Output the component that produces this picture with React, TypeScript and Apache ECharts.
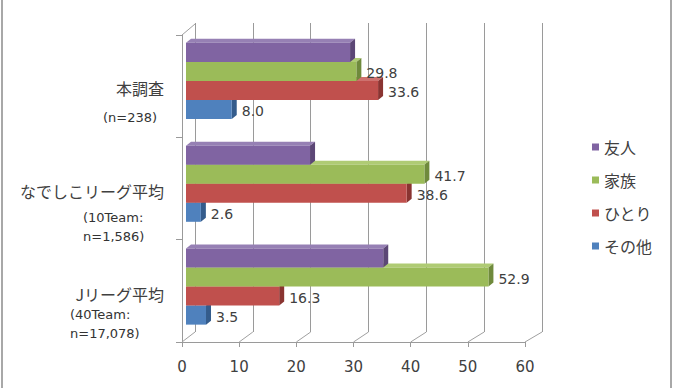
import React, { useEffect, useRef } from "react";
import * as echarts from "echarts";

const categories = ["本調査", "なでしこリーグ平均", "Jリーグ平均"];
const categoryNotes = [["(n=238)"], ["(10Team:", "n=1,586)"], ["(40Team:", "n=17,078)"]];
const seriesNames = ["友人", "家族", "ひとり", "その他"];
const friend = [28.7, 21.7, 34.5];
const family = [29.8, 41.7, 52.9];
const alone = [33.6, 38.6, 16.3];
const other = [8.0, 2.6, 3.5];
const xTicks = [0, 10, 20, 30, 40, 50, 60];

const seriesValues = [friend, family, alone, other];
const showLabels = [false, true, true, true];
const palette = [
  { front: "#8064A2", side: "#5C4776", top: "#9680B4" },
  { front: "#9BBB59", side: "#6F8A3C", top: "#AFCB74" },
  { front: "#C0504D", side: "#8A3431", top: "#CE716E" },
  { front: "#4F81BD", side: "#345C8C", top: "#7097CA" },
];

const notePad = [1, 11, 8];
const noteGap = [0, 13, 0];
const noteWidth = [0, 64, 80];

function makeBarRender(slot: number, colors: any, label: boolean) {
  return (params: any, api: any) => {
    const v = api.value(0);
    const c = api.value(1);
    const start = api.coord([0, c]);
    const end = api.coord([v, c]);
    const band = api.size([0, 1])[1];
    const barH = band * 0.185;
    const y0 = start[1] - barH * 2 + slot * barH;
    const y1 = y0 + barH;
    const x0 = start[0];
    const x1 = end[0];
    const dx = 5;
    const dy = 4;
    const children: any[] = [
      {
        type: "polygon",
        shape: { points: [[x0, y0], [x0 + dx, y0 - dy], [x1 + dx, y0 - dy], [x1, y0]] },
        style: { fill: colors.top },
      },
      {
        type: "polygon",
        shape: { points: [[x1, y0], [x1 + dx, y0 - dy], [x1 + dx, y1 - dy], [x1, y1]] },
        style: { fill: colors.side },
      },
      {
        type: "rect",
        shape: { x: x0, y: y0, width: x1 - x0, height: barH },
        style: { fill: colors.front },
      },
    ];
    if (label) {
      children.push({
        type: "text",
        x: x1 + 10,
        y: (y0 + y1) / 2 + 2,
        style: {
          text: v.toFixed(1),
          fill: "#404040",
          fontSize: 14,
          fontFamily: "DejaVu Sans",
          verticalAlign: "middle",
          align: "left",
        },
      });
    }
    return { type: "group", children };
  };
}

function floorRender(params: any, api: any) {
  const cs = params.coordSys;
  const v = api.value(0);
  const x = api.coord([v, 0])[0];
  const bottom = cs.y + cs.height;
  const top = cs.y;
  const dx = 13 + (4 * v) / 60;
  const children: any[] = [
    {
      type: "line",
      shape: { x1: x, y1: bottom, x2: x + dx, y2: bottom - 10 },
      style: { stroke: "#a0a0a0", lineWidth: 1 },
    },
  ];
  if (v === 0) {
    children.push({
      type: "line",
      shape: { x1: x, y1: top, x2: x + 13, y2: top - 11 },
      style: { stroke: "#a0a0a0", lineWidth: 1 },
    });
  }
  return { type: "group", children };
}

export default function App() {
  const ref = useRef<HTMLDivElement>(null);
  useEffect(() => {
    if (!ref.current) return;
    const chart = echarts.init(ref.current, null, { renderer: "svg" });

    const noteRich: any = { g: { fontSize: 1, lineHeight: 13 } };
    categoryNotes.forEach((_, i) => {
      const st: any = {
        fontSize: 13,
        fontFamily: "DejaVu Sans",
        color: "#333333",
        lineHeight: 19,
        align: "left",
        padding: [0, notePad[i], 0, 0],
      };
      if (noteWidth[i] > 0) st.width = noteWidth[i];
      noteRich["s" + i] = st;
    });

    const barSeries = [3, 2, 1, 0].map((k) => ({
      type: "custom",
      name: seriesNames[k],
      xAxisIndex: 2,
      yAxisIndex: 2,
      itemStyle: { color: palette[k].front },
      encode: { x: 0, y: 1 },
      data: seriesValues[k].map((v, i) => [v, i]),
      renderItem: makeBarRender(k, palette[k], showLabels[k]),
    }));

    const gridLine = "#9a9a9a";

    chart.setOption({
      animation: false,
      legend: {
        data: seriesNames,
        orient: "vertical",
        left: 587,
        top: 134,
        icon: "rect",
        itemWidth: 7,
        itemHeight: 7,
        itemGap: 17,
        textStyle: {
          fontSize: 16,
          lineHeight: 16,
          fontFamily: "Noto Sans CJK JP",
          color: "#404040",
          padding: [0, 0, 0, 0],
        },
      },
      grid: [
        { left: 182, right: 159, top: 35, bottom: 46 },
        { left: 195, right: 142, top: 23, bottom: 56 },
        { left: 186, right: 155, top: 29.5, bottom: 50 },
        { left: 186, right: 155, top: 37, bottom: 42.5 },
        { left: 186, right: 155, top: 66.5, bottom: 13 },
      ],
      xAxis: [
        {
          gridIndex: 0,
          type: "value",
          min: 0,
          max: 60,
          interval: 10,
          axisLine: { show: true, lineStyle: { color: gridLine } },
          axisTick: { show: true, length: 5, lineStyle: { color: gridLine } },
          splitLine: { show: false },
          axisLabel: {
            margin: 17,
            fontSize: 15,
            fontFamily: "DejaVu Sans",
            color: "#404040",
            formatter: (v: number) => (xTicks.includes(v) ? String(v) : ""),
          },
        },
        {
          gridIndex: 1,
          type: "value",
          min: 0,
          max: 60,
          interval: 10,
          axisLine: { show: false },
          axisTick: { show: false },
          axisLabel: { show: false },
          splitLine: { show: true, lineStyle: { color: gridLine, width: 1 } },
        },
        { gridIndex: 2, type: "value", min: 0, max: 60, show: false },
        { gridIndex: 3, type: "value", min: 0, max: 60, show: false },
        { gridIndex: 4, type: "value", min: 0, max: 60, show: false },
      ],
      yAxis: [
        {
          gridIndex: 0,
          type: "category",
          inverse: true,
          data: categories,
          axisLine: { show: true, lineStyle: { color: gridLine } },
          axisTick: { show: true, length: 6, lineStyle: { color: gridLine } },
          axisLabel: { show: false },
        },
        {
          gridIndex: 1,
          type: "category",
          inverse: true,
          data: categories,
          axisLine: { show: false },
          axisTick: { show: false },
          axisLabel: { show: false },
        },
        {
          gridIndex: 2,
          type: "category",
          inverse: true,
          data: categories,
          show: false,
        },
        {
          gridIndex: 3,
          type: "category",
          inverse: true,
          data: categories,
          axisLine: { show: false },
          axisTick: { show: false },
          axisLabel: {
            margin: 22,
            fontSize: 16,
            fontFamily: "Noto Sans CJK JP",
            color: "#404040",
          },
        },
        {
          gridIndex: 4,
          type: "category",
          inverse: true,
          data: categories,
          axisLine: { show: false },
          axisTick: { show: false },
          axisLabel: {
            margin: 28,
            formatter: (_: string, idx: number) => {
              const lines = categoryNotes[idx].map((l) => `{s${idx}|${l}}`);
              if (noteGap[idx] > 0) lines.unshift("{g| }");
              return lines.join("\n");
            },
            rich: noteRich,
          },
        },
      ],
      series: [
        {
          type: "custom",
          name: "floor",
          xAxisIndex: 0,
          yAxisIndex: 0,
          silent: true,
          encode: { x: 0, y: 1 },
          data: xTicks.map((v) => [v, 0]),
          renderItem: floorRender,
        },
        ...barSeries,
      ],
      graphic: [
        {
          type: "rect",
          shape: { x: 2, y: -5, width: 669, height: 400 },
          style: { fill: "none", stroke: "#a8a8a8", lineWidth: 2 },
          silent: true,
        },
      ],
    });
    return () => chart.dispose();
  }, []);
  return (
    <div
      ref={ref}
      style={{ position: "fixed", left: 0, top: 0, width: 684, height: 388, background: "#fff" }}
    />
  );
}
